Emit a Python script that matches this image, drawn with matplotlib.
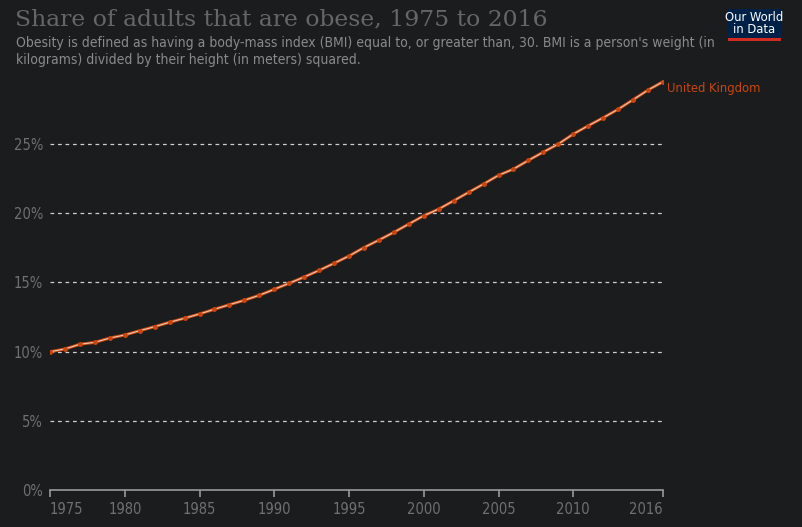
import matplotlib
matplotlib.use("Agg")
import matplotlib.pyplot as plt
from matplotlib import font_manager
from matplotlib.patches import Rectangle

# ------------------------------ data ------------------------------
years = list(range(1975, 2017))
obese_uk = [9.99, 10.19, 10.53, 10.67, 10.98, 11.20, 11.51, 11.80, 12.12, 12.41,
            12.72, 13.06, 13.39, 13.71, 14.07, 14.50, 14.94, 15.39, 15.87, 16.38,
            16.91, 17.52, 18.06, 18.62, 19.22, 19.82, 20.30, 20.90, 21.51, 22.11,
            22.74, 23.19, 23.82, 24.42, 25.00, 25.72, 26.32, 26.90, 27.51, 28.20,
            28.90, 29.50]
country = "United Kingdom"
x_ticks = [1975, 1980, 1985, 1990, 1995, 2000, 2005, 2010, 2016]
y_ticks = [0, 5, 10, 15, 20, 25]

title = "Share of adults that are obese, 1975 to 2016"
subtitle = ("Obesity is defined as having a body-mass index (BMI) equal to, or greater than, 30. BMI is a person's weight (in\n"
            "kilograms) divided by their height (in meters) squared.")

# ------------------------------ style ------------------------------
bg = "#1b1c1e"
has_cond = any("Condensed" in f.fname for f in font_manager.fontManager.ttflist if f.name == "DejaVu Sans")
narrow = dict(family="DejaVu Sans", stretch="condensed")
serif = "DejaVu Serif"
line_col = "#c9470f"
# shrink sizes a little when no condensed face is there
k = 1.0 if has_cond else 0.92

W, H = 803, 527
fig = plt.figure(figsize=(W / 100, H / 100), dpi=100, facecolor=bg)
# axes box in pixels: left 50, right 663, bottom 490, top 74.8 (30%)
ax = fig.add_axes([50 / W, 1 - 490 / H, (663 - 50) / W, (490 - 74.8) / H])
ax.set_facecolor(bg)

ax.set_xlim(1975, 2016)
ax.set_ylim(0, 30)

for t in y_ticks[1:]:
    ax.axhline(t, color="#cfcfcf", linestyle=(0, (3, 3)), linewidth=0.9, zorder=1)

ax.plot(years, obese_uk, color=line_col, linewidth=2.2, zorder=3, solid_capstyle="round")
ax.plot(years, obese_uk, color="#ecc8b2", linewidth=0.8, zorder=4)
ax.plot(years, obese_uk, linestyle="none", marker="o", markersize=2.5, color=line_col, zorder=5)

ax.text(2016.3, obese_uk[-1] - 0.5, country, color=line_col, fontsize=9.3 * k,
        ha="left", va="center", **narrow)

for s in ["top", "right", "left"]:
    ax.spines[s].set_visible(False)
ax.spines["bottom"].set_color("#9a9a9a")
ax.spines["bottom"].set_linewidth(1.2)

ax.set_xticks(x_ticks)
ax.set_xticklabels([str(t) for t in x_ticks], fontsize=10.5 * k, color="#707070", **narrow)
labels = ax.get_xticklabels()
labels[0].set_ha("left")
labels[-1].set_ha("right")
ax.tick_params(axis="x", direction="out", length=5, width=1.2, color="#9a9a9a", pad=4)

ax.set_yticks(y_ticks)
ax.set_yticklabels([f"{t}%" for t in y_ticks], fontsize=10.5 * k, color="#707070", **narrow)
ax.tick_params(axis="y", length=0, pad=5)

# ------------------------------ header ------------------------------
fig.text(15 / W, 1 - 19 / H, title, family=serif, fontsize=16.9, color="#666666", va="center")
fig.text(16 / W, 1 - 36 / H, subtitle, fontsize=10 * k, color="#8a8a8a",
         va="top", linespacing=1.3, **narrow)

# logo
fig.patches.append(Rectangle((728 / W, 1 - 41 / H), 53 / W, 32 / H, transform=fig.transFigure,
                             facecolor="#002147", edgecolor="none"))
fig.patches.append(Rectangle((728 / W, 1 - 41 / H), 53 / W, 3 / H, transform=fig.transFigure,
                             facecolor="#d42b21", edgecolor="none"))
fig.text(754.5 / W, 1 - 23.5 / H, "Our World\nin Data", fontsize=9.3 * k, color="white",
         ha="center", va="center", linespacing=0.95, **narrow)

fig.savefig("out.png", dpi=100, facecolor=bg)
